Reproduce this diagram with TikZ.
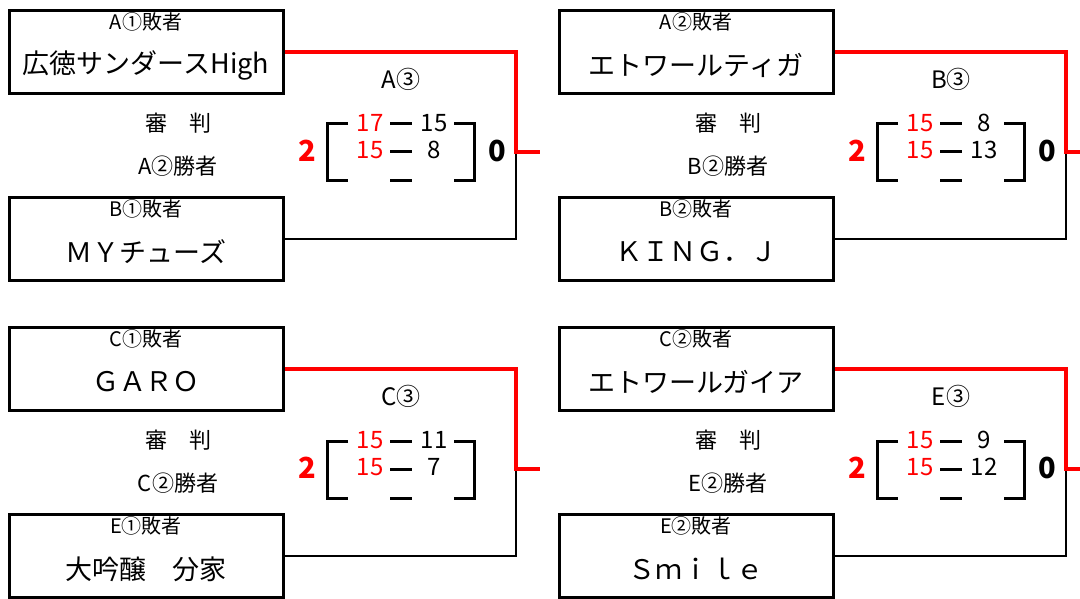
\documentclass[tikz,border=0pt]{standalone}
\usepackage{fontspec}
\setmainfont{Noto Sans CJK JP}
\begin{document}
\begin{tikzpicture}[x=1pt,y=-1pt]
    \tikzset{
    team/.style={draw,line width=3pt,minimum width=274pt,minimum height=83pt,inner sep=0pt},
    tname/.style={font=\fontsize{27}{30}\selectfont},
    lab/.style={font=\fontsize{20}{22}\selectfont},
    info/.style={font=\fontsize{22}{24}\selectfont},
    pts/.style={font=\fontsize{24}{26}\selectfont},
    win/.style={pts,red},
    tot/.style={font=\fontsize{29}{31}\selectfont\bfseries},
    brk/.style={line width=3pt},
    c1/.style={line width=2.7pt},
    c2/.style={red,line width=4pt},
    }
    \useasboundingbox (0,0) rectangle (1080,599);

    % A3
    \node[team] (tA) at (146,52) {};
    \node[lab] (tAl) at (146,22) {A①敗者};
    \node[tname] (tAn) at (146,65) {広徳サンダースHigh};
    \node[team] (bA) at (146,239) {};
    \node[lab] (bAl) at (146,209) {B①敗者};
    \node[tname] (bAn) at (146,252) {ＭＹチューズ};
    \node[info] (jA) at (178,123) {審　判};
    \node[info] (wA) at (178,166) {A②勝者};
    \node[pts] (hA) at (401,79) {A③};
    \node[win] (sA1) at (370,123) {17};
    \node[pts] (rA1) at (434,123) {15};
    \node[win] (sA2) at (370,150) {15};
    \node[pts] (rA2) at (434,150) {8};
    \node[tot,red] (gA) at (307,151) {2};
    \node[tot] (lA) at (497,151) {0};
    \draw[brk] (348,124) -- (327,124) -- (327,181) -- (348,181);
    \draw[brk] (454,124) -- (474,124) -- (474,181) -- (454,181);
    \foreach \y in {124,152,181} \draw[brk] (390,\y) -- (412,\y);
    \coordinate (jnA) at (516,152);
    \coordinate (endA) at (540,152);
    \draw[c1] (bA.east) -| (jnA);
    \draw[c2] (tA.east) -| (jnA) -- (endA);

    % B3
    \begin{scope}[shift={(550,0)}]
    \node[team] (tB) at (146,52) {};
    \node[lab] (tBl) at (146,22) {A②敗者};
    \node[tname] (tBn) at (146,65) {エトワールティガ};
    \node[team] (bB) at (146,239) {};
    \node[lab] (bBl) at (146,209) {B②敗者};
    \node[tname] (bBn) at (146,252) {ＫＩＮＧ．Ｊ};
    \node[info] (jB) at (178,123) {審　判};
    \node[info] (wB) at (178,166) {B②勝者};
    \node[pts] (hB) at (401,79) {B③};
    \node[win] (sB1) at (370,123) {15};
    \node[pts] (rB1) at (434,123) {8};
    \node[win] (sB2) at (370,150) {15};
    \node[pts] (rB2) at (434,150) {13};
    \node[tot,red] (gB) at (307,151) {2};
    \node[tot] (lB) at (497,151) {0};
    \draw[brk] (348,124) -- (327,124) -- (327,181) -- (348,181);
    \draw[brk] (454,124) -- (474,124) -- (474,181) -- (454,181);
    \foreach \y in {124,152,181} \draw[brk] (390,\y) -- (412,\y);
    \coordinate (jnB) at (516,152);
    \coordinate (endB) at (530,152);
    \draw[c1] (bB.east) -| (jnB);
    \draw[c2] (tB.east) -| (jnB) -- (endB);
    \end{scope}

    % C3
    \begin{scope}[shift={(0,317)}]
    \node[team] (tC) at (146,52) {};
    \node[lab] (tCl) at (146,22) {C①敗者};
    \node[tname] (tCn) at (146,65) {ＧＡＲＯ};
    \node[team] (bC) at (146,239) {};
    \node[lab] (bCl) at (146,209) {E①敗者};
    \node[tname] (bCn) at (146,252) {大吟醸　分家};
    \node[info] (jC) at (178,123) {審　判};
    \node[info] (wC) at (178,166) {C②勝者};
    \node[pts] (hC) at (401,79) {C③};
    \node[win] (sC1) at (370,123) {15};
    \node[pts] (rC1) at (434,123) {11};
    \node[win] (sC2) at (370,150) {15};
    \node[pts] (rC2) at (434,150) {7};
    \node[tot,red] (gC) at (307,151) {2};
    \draw[brk] (348,124) -- (327,124) -- (327,181) -- (348,181);
    \draw[brk] (454,124) -- (474,124) -- (474,181) -- (454,181);
    \foreach \y in {124,152,181} \draw[brk] (390,\y) -- (412,\y);
    \coordinate (jnC) at (516,152);
    \coordinate (endC) at (540,152);
    \draw[c1] (bC.east) -| (jnC);
    \draw[c2] (tC.east) -| (jnC) -- (endC);
    \end{scope}

    % E3
    \begin{scope}[shift={(550,317)}]
    \node[team] (tE) at (146,52) {};
    \node[lab] (tEl) at (146,22) {C②敗者};
    \node[tname] (tEn) at (146,65) {エトワールガイア};
    \node[team] (bE) at (146,239) {};
    \node[lab] (bEl) at (146,209) {E②敗者};
    \node[tname] (bEn) at (146,252) {Ｓｍｉｌｅ};
    \node[info] (jE) at (178,123) {審　判};
    \node[info] (wE) at (178,166) {E②勝者};
    \node[pts] (hE) at (401,79) {E③};
    \node[win] (sE1) at (370,123) {15};
    \node[pts] (rE1) at (434,123) {9};
    \node[win] (sE2) at (370,150) {15};
    \node[pts] (rE2) at (434,150) {12};
    \node[tot,red] (gE) at (307,151) {2};
    \node[tot] (lE) at (497,151) {0};
    \draw[brk] (348,124) -- (327,124) -- (327,181) -- (348,181);
    \draw[brk] (454,124) -- (474,124) -- (474,181) -- (454,181);
    \foreach \y in {124,152,181} \draw[brk] (390,\y) -- (412,\y);
    \coordinate (jnE) at (516,152);
    \coordinate (endE) at (530,152);
    \draw[c1] (bE.east) -| (jnE);
    \draw[c2] (tE.east) -| (jnE) -- (endE);
    \end{scope}
\end{tikzpicture}
\end{document}
